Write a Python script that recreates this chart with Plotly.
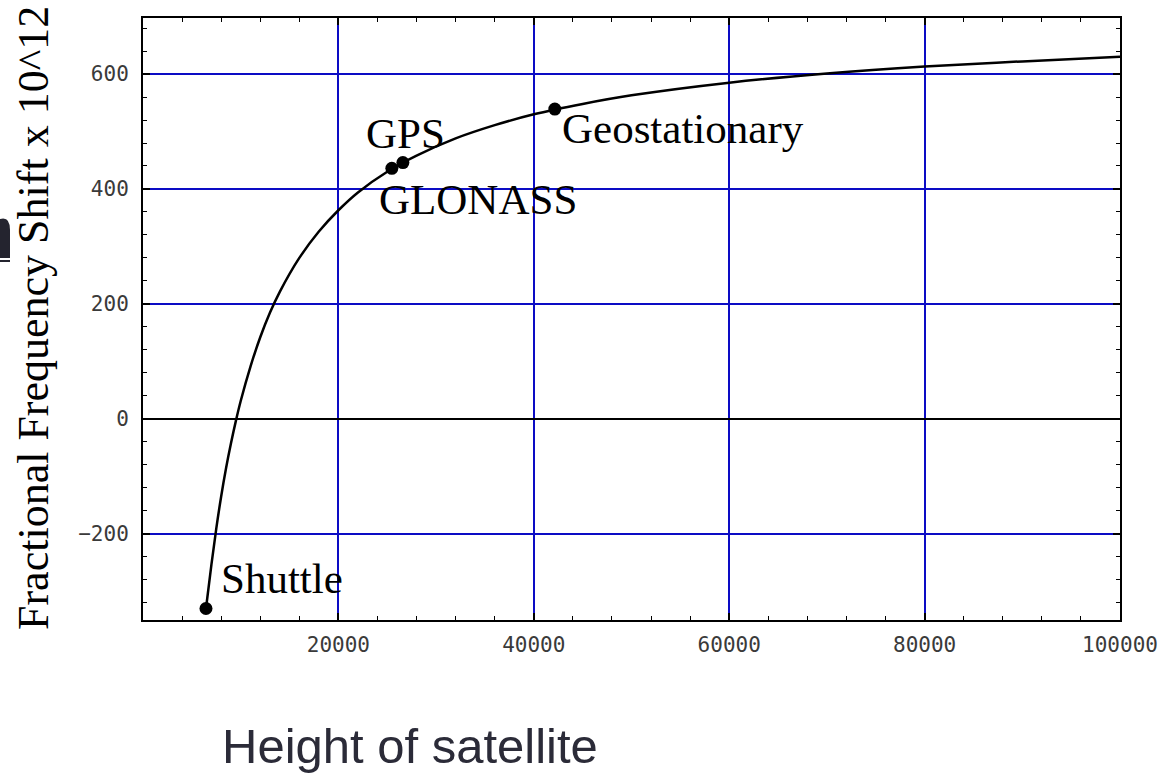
import plotly.graph_objects as go

# ---- data ----
curve_x = [6445, 7000, 7500, 8000, 8500, 9000, 9500, 10000, 11000, 12000, 13000,
           14000, 16000, 18000, 20000, 22000, 25000, 28000, 32000, 36000, 40000,
           45000, 50000, 60000, 70000, 80000, 90000, 100000]
curve_y = [-330, -254, -191, -135, -86, -43, -4, 31, 91, 142, 185,
           221, 280, 326, 363, 394, 430, 458, 488, 511, 530,
           548, 563, 585, 601, 613, 622, 630]

sat_names = ["Shuttle", "GLONASS", "GPS", "Geostationary"]
sat_x = [6445, 25470, 26600, 42150]
sat_y = [-330, 436, 446, 539]

x_ticks = [20000, 40000, 60000, 80000, 100000]
x_tick_text = ["20000", "40000", "60000", "80000", "100000"]
y_ticks = [-200, 0, 200, 400, 600]
y_tick_text = ["\u2212200", "0", "200", "400", "600"]

y_title = "Fractional Frequency Shift x 10^12"
x_title = "Height of satellite"

# ---- layout geometry (pixels) ----
W, H = 1168, 773
L, R, T, B = 143, 48, 18, 153
PW, PH = W - L - R, H - T - B


def px(xp):
    return (xp - L) / PW


def py(yp):
    return (H - B - yp) / PH


fig = go.Figure()
fig.add_trace(go.Scatter(x=curve_x, y=curve_y, mode="lines",
                         line=dict(color="black", width=2.5, shape="spline"),
                         hoverinfo="skip", showlegend=False))
fig.add_trace(go.Scatter(x=sat_x, y=sat_y, mode="markers",
                         marker=dict(color="black", size=13),
                         text=sat_names, showlegend=False))

label_font = dict(family="Liberation Serif, Times New Roman, serif", size=43, color="black")
# label offsets (pixels) relative to each point
offsets = {"Shuttle": (76, 30), "GLONASS": (86, -31), "GPS": (3, 29), "Geostationary": (128, -19)}
for n, xv, yv in zip(sat_names, sat_x, sat_y):
    dx, dy = offsets[n]
    fig.add_annotation(x=xv, y=yv, text=n, showarrow=False, xanchor="center",
                       yanchor="middle", xshift=dx, yshift=dy, font=label_font)

# axis titles as annotations
fig.add_annotation(xref="paper", yref="paper", x=px(33), y=py(318), text=y_title,
                   textangle=-90, showarrow=False, xanchor="center", yanchor="middle",
                   font=dict(family="Liberation Serif, Times New Roman, serif", size=44,
                             color="black"))
fig.add_annotation(xref="paper", yref="paper", x=px(410), y=py(746), text=x_title,
                   showarrow=False, xanchor="center", yanchor="middle",
                   font=dict(family="Liberation Sans, Arial, sans-serif", size=49,
                             color="#2b2b38"))

# fragment of slide text at the far left edge
path = "M {} {} L {} {} Q {} {} {} {} L {} {} Z".format(
    px(0), py(258), px(0), py(219), px(10), py(216), px(10), py(230), px(10), py(258))
fig.add_shape(type="path", xref="paper", yref="paper", path=path,
              fillcolor="#24242f", line=dict(width=0))
fig.add_shape(type="rect", xref="paper", yref="paper", x0=px(0), x1=px(10),
              y0=py(262), y1=py(260), fillcolor="#24242f", line=dict(width=0))

tick_font = dict(family="DejaVu Sans Mono, monospace", size=21, color="#3a3a3a")
grid_blue = "#0c0cc4"

fig.update_xaxes(range=[0, 100000], tickvals=x_ticks, ticktext=x_tick_text,
                 automargin=False,
                 showgrid=True, gridcolor=grid_blue, gridwidth=1.6, zeroline=False,
                 showline=True, linecolor="black", linewidth=2, mirror="allticks",
                 ticks="inside", ticklen=7, tickwidth=1.5, tickcolor="black",
                 tickfont=tick_font, ticklabelstandoff=5,
                 minor=dict(dtick=4000, tick0=0, ticks="inside", ticklen=4,
                            tickwidth=1.2, tickcolor="black", showgrid=False))
fig.update_yaxes(range=[-350, 697.5], tickvals=y_ticks, ticktext=y_tick_text,
                 automargin=False,
                 showgrid=True, gridcolor=grid_blue, gridwidth=1.6,
                 zeroline=True, zerolinecolor="black", zerolinewidth=1.6,
                 showline=True, linecolor="black", linewidth=2, mirror="allticks",
                 ticks="inside", ticklen=7, tickwidth=1.5, tickcolor="black",
                 tickfont=tick_font, ticklabelstandoff=8,
                 minor=dict(dtick=40, tick0=0, ticks="inside", ticklen=4,
                            tickwidth=1.2, tickcolor="black", showgrid=False))

fig.update_layout(width=W, height=H, margin=dict(l=L, r=R, t=T, b=B, autoexpand=False),
                  paper_bgcolor="white", plot_bgcolor="white", showlegend=False)

fig.write_html("out.html")
